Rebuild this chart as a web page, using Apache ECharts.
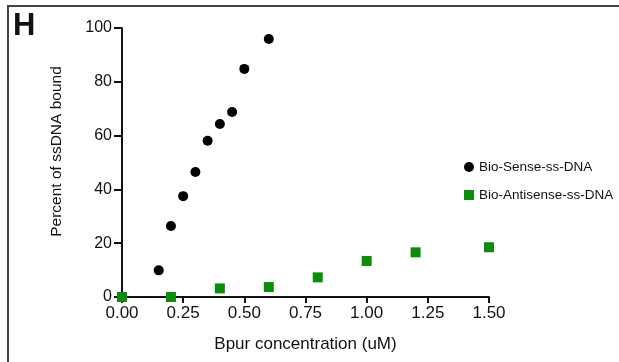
<!DOCTYPE html>
<html><head><meta charset="utf-8">
<script src="https://cdn.jsdelivr.net/npm/echarts@6/dist/echarts.min.js"></script>
<style>html,body{margin:0;padding:0;background:#fff}#c{width:619px;height:362px}</style>
</head><body><div id="c"></div>
<script>
const senseX = [0.15, 0.20, 0.25, 0.30, 0.35, 0.40, 0.45, 0.50, 0.60];
const senseY = [9.9, 26.4, 37.5, 46.5, 58.1, 64.3, 68.8, 84.8, 95.9];
const antiX = [0.00, 0.20, 0.40, 0.60, 0.80, 1.00, 1.20, 1.50];
const antiY = [0.0, 0.0, 3.2, 3.7, 7.3, 13.4, 16.6, 18.5];
const seriesNames = ['Bio-Sense-ss-DNA', 'Bio-Antisense-ss-DNA'];
const xTicks = [0, 0.25, 0.5, 0.75, 1.0, 1.25, 1.5];
const yTicks = [0, 20, 40, 60, 80, 100];

const font = 'Liberation Sans, Arial, sans-serif';
const chart = echarts.init(document.getElementById('c'), null, {renderer: 'canvas'});
chart.setOption({
  animation: false,
  backgroundColor: '#fff',
  grid: {left: 122, right: 130, top: 28, bottom: 65, containLabel: false},
  xAxis: {
    type: 'value', min: xTicks[0], max: xTicks[xTicks.length-1], interval: 0.25,
    name: 'Bpur concentration (uM)', nameLocation: 'middle', nameGap: 39,
    nameTextStyle: {fontFamily: font, fontSize: 17, color: '#111'},
    axisLine: {show: true, onZero: false, lineStyle: {color: '#111', width: 2}},
    axisTick: {show: true, length: 6, lineStyle: {color: '#111', width: 2}},
    axisLabel: {fontFamily: font, fontSize: 17, color: '#111', margin: 8, formatter: v => v.toFixed(2)},
    splitLine: {show: false}
  },
  yAxis: {
    type: 'value', min: yTicks[0], max: yTicks[yTicks.length-1], interval: 20,
    name: 'Percent of ssDNA bound', nameLocation: 'middle', nameGap: 57,
    nameTextStyle: {fontFamily: font, fontSize: 15.5, color: '#111', padding: [0, 0, 0, 22]},
    axisLine: {show: true, onZero: false, lineStyle: {color: '#111', width: 2}},
    axisTick: {show: true, length: 8, lineStyle: {color: '#111', width: 2}},
    axisLabel: {fontFamily: font, fontSize: 16, color: '#111', margin: 10},
    splitLine: {show: false}
  },
  legend: {
    orient: 'vertical', left: 459, top: 155, itemGap: 14,
    itemWidth: 10, itemHeight: 10,
    textStyle: {fontFamily: font, fontSize: 13.5, color: '#111'},
    data: [
      {name: seriesNames[0], icon: 'circle'},
      {name: seriesNames[1], icon: 'rect'}
    ]
  },
  graphic: [
    {type: 'text', left: 13, top: 11, style: {text: 'H', font: 'bold 31px ' + font, fill: '#111'}},
    {type: 'line', shape: {x1: 7, y1: 6, x2: 619, y2: 6}, style: {stroke: '#444', lineWidth: 2}},
    {type: 'line', shape: {x1: 8, y1: 6, x2: 8, y2: 362}, style: {stroke: '#444', lineWidth: 2}}
  ],
  series: [
    {name: seriesNames[0], type: 'scatter', symbol: 'circle', symbolSize: 10,
     itemStyle: {color: '#000', opacity: 1}, z: 3,
     data: senseX.map((x, i) => [x, senseY[i]])},
    {name: seriesNames[1], type: 'scatter', symbol: 'rect', symbolSize: 10,
     itemStyle: {color: '#0b8c0b', opacity: 1}, z: 4,
     data: antiX.map((x, i) => [x, antiY[i]])}
  ]
});
</script></body></html>
